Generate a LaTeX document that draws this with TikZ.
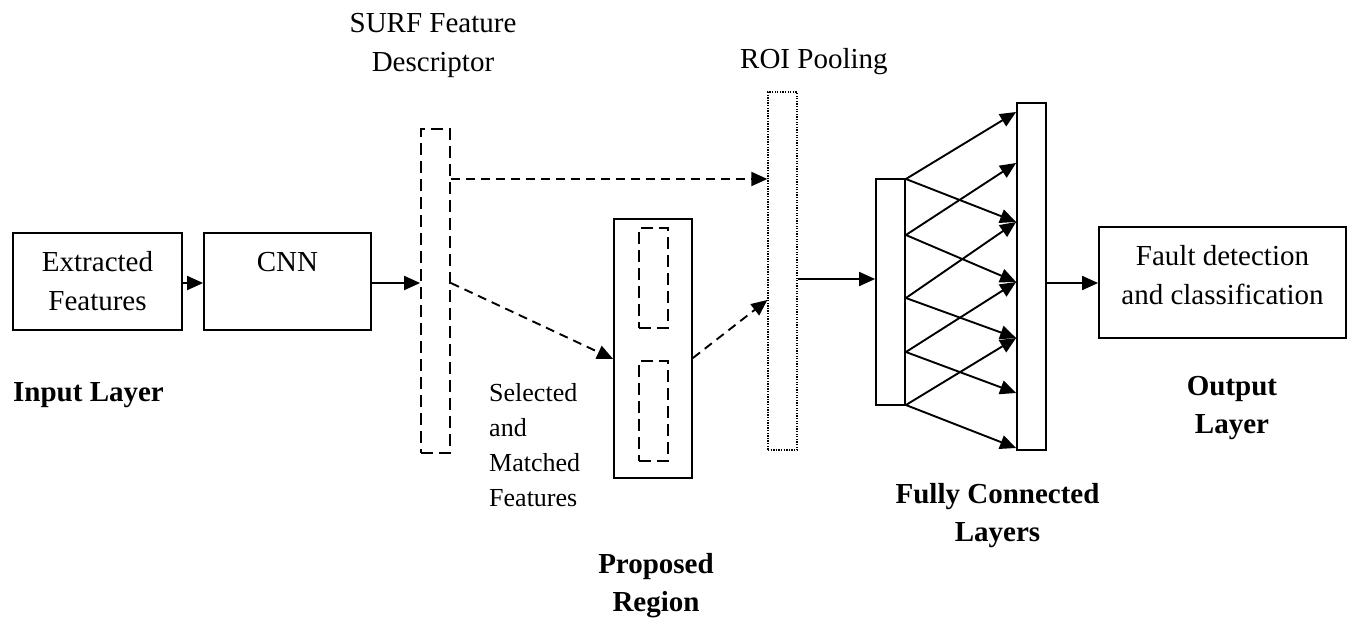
\documentclass[tikz,border=0pt]{standalone}
\usepackage{fontspec}
\setmainfont{Liberation Serif}
\usetikzlibrary{arrows.meta}

\tikzset{
  box/.style={draw, line width=1.8pt, inner sep=0pt, align=center,
              font=\fontsize{29}{39}\selectfont},
  dashbox/.style={draw, line width=1.8pt, inner sep=0pt,
                  dash pattern=on 12pt off 6pt},
  dotbox/.style={draw, line width=1.3pt, inner sep=0pt,
                 dash pattern=on 1.3pt off 1.3pt},
  bar/.style={draw, line width=1.8pt, inner sep=0pt},
  conn/.style={line width=1.9pt, -{Triangle[length=16pt,width=14pt]}},
  dconn/.style={conn, dash pattern=on 9pt off 6pt},
  plain/.style={inner sep=0pt, font=\fontsize{29}{39}\selectfont},
  small/.style={inner sep=0pt, align=left, font=\fontsize{26}{35}\selectfont},
  heading/.style={inner sep=0pt, align=center,
                  font=\fontsize{29}{38}\selectfont\bfseries}
}

\begin{document}
\begin{tikzpicture}[x=1pt, y=-1pt]
\useasboundingbox (0,0) rectangle (1354,622);

% input and CNN blocks
\node[box, minimum width=169pt, minimum height=97pt] (ext) at (97.5,281.5)
  {Extracted\\Features};
\node[box, minimum width=167pt, minimum height=97pt] (cnn) at (287.5,281.5)
  {CNN\\\mbox{}};

% SURF descriptor bar
\node[dashbox, minimum width=29pt, minimum height=324pt] (surf) at (435.5,291) {};

% proposed region with its two candidate windows
\node[bar, minimum width=78pt, minimum height=259pt] (prop) at (653,348.5) {};
\node[dashbox, minimum width=29pt, minimum height=100pt] (win1) at (653.5,278) {};
\node[dashbox, minimum width=29pt, minimum height=100pt] (win2) at (653.5,411) {};

% ROI pooling bar
\node[dotbox, minimum width=29pt, minimum height=358pt] (roi) at (782.5,271) {};

% fully connected layers
\node[bar, minimum width=29pt, minimum height=226pt] (fca) at (890.5,292) {};
\node[bar, minimum width=29pt, minimum height=347pt] (fcb) at (1031.5,276.5) {};

% output block
\node[box, minimum width=247pt, minimum height=111pt] (out) at (1222.5,282.5)
  {Fault detection\\and classification\rule[-16pt]{0pt}{16pt}};

% labels
\node[plain, align=center] (lsurf) at (433,45.5) {SURF Feature\\Descriptor};
\node[plain, anchor=base west] (lroi) at (740,68) {ROI Pooling};
\node[heading, anchor=base west] (lin) at (13,401) {Input Layer};
\node[small, anchor=west] (lsel) at (489,445) {Selected\\and\\Matched\\Features};
\node[heading] (lprop) at (656,585.5) {Proposed\\Region};
\node[heading] (lfc) at (997.5,515.5) {Fully Connected\\Layers};
\node[heading] (lout) at (1232,408) {Output\\Layer};

% main flow
\draw[conn] (ext.east |- 0,283) -- (cnn.west |- 0,283);
\draw[conn] (cnn.east |- 0,283) -- (surf.west |- 0,283);
\draw[dconn] (surf.east |- 0,179) -- (roi.west |- 0,179);
\draw[dconn] (surf.east |- 0,283) -- (prop.west |- 0,359);
\draw[dconn] (prop.east |- 0,358) -- (roi.west |- 0,300);
\draw[conn] (roi.east |- 0,279) -- (fca.west |- 0,279);

% dense connections between the two layers
\foreach \s/\u/\d in {179/112/222, 235/163/282, 298/222/338, 352/282/393, 405/338/448} {
  \draw[conn] (fca.east |- 0,\s) -- (fcb.west |- 0,\u);
  \draw[conn] (fca.east |- 0,\s) -- (fcb.west |- 0,\d);
}

\draw[conn] (fcb.east |- 0,283) -- (out.west |- 0,283);
\end{tikzpicture}
\end{document}
